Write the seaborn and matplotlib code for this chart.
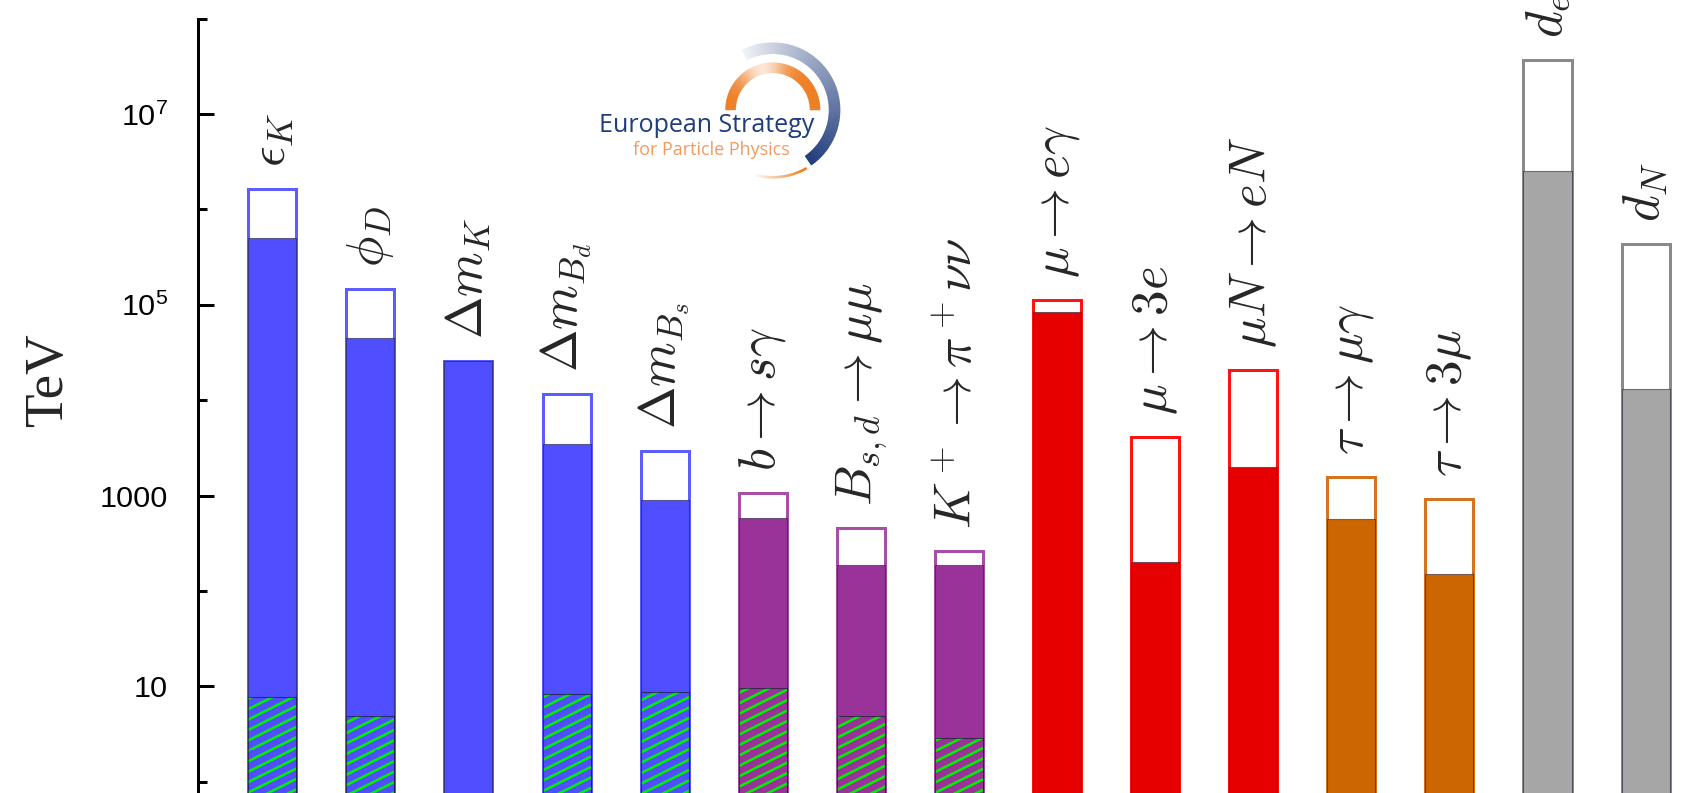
import numpy as np
import pandas as pd
import matplotlib
matplotlib.use("Agg")
import matplotlib.pyplot as plt
import matplotlib.hatch as mhatch
from matplotlib.path import Path
import seaborn as sns
from matplotlib.patches import Wedge
from matplotlib.ticker import FixedLocator, FixedFormatter, NullFormatter
from matplotlib.colors import to_rgb

# ---------------- data ----------------
processes = ["eK", "phiD", "dmK", "dmBd", "dmBs", "bsg", "Bmumu", "Kpinunu",
             "mueg", "mu3e", "muNeN", "taumug", "tau3mu", "de", "dN"]
labels = [r"$\epsilon_K$", r"$\phi_D$", r"$\Delta m_K$", r"$\Delta m_{B_d}$",
          r"$\Delta m_{B_s}$", r"$b\to s\gamma$", r"$B_{s,d}\to\mu\mu$",
          r"$K^+\to\pi^+\nu\nu$", r"$\mu\to e\gamma$", r"$\mu\to 3e$",
          r"$\mu N\to eN$", r"$\tau\to\mu\gamma$", r"$\tau\to 3\mu$",
          r"$d_e$", r"$d_N$"]
sectors = ["dF2", "dF2", "dF2", "dF2", "dF2", "dF1", "dF1", "dF1",
           "muLFV", "muLFV", "muLFV", "tauLFV", "tauLFV", "EDM", "EDM"]
future_reach = [1.65e6, 1.45e5, 2.6e4, 1.15e4, 2.9e3, 1.07e3, 4.6e2, 2.6e2,
                1.12e5, 4.1e3, 2.05e4, 1.55e3, 9.2e2, 3.65e7, 4.3e5]
current_reach = [5.0e5, 4.45e4, 2.6e4, 3.5e3, 9.0e2, 5.8e2, 1.85e2, 1.85e2,
                 8.5e4, 2.0e2, 2.0e3, 5.7e2, 1.5e2, 2.5e6, 1.3e4]
mfv_reach = [7.7, 4.9, np.nan, 8.4, 8.8, 9.5, 4.9, 2.9,
             np.nan, np.nan, np.nan, np.nan, np.nan, np.nan, np.nan]
major_ticks = [10, 1e3, 1e5, 1e7]
major_tick_labels = ["10", "1000", r"$\mathregular{10^5}$", r"$\mathregular{10^7}$"]
minor_ticks = [1, 1e2, 1e4, 1e6, 1e8]
y_label = "TeV"
logo_title = "European Strategy"
logo_subtitle = "for Particle Physics"

# ---------------- style ----------------
fill_pal = {"dF2": "#4F4FFF", "dF1": "#993399", "muLFV": "#E60000",
            "tauLFV": "#CC6600", "EDM": "#A6A6A6"}
edge_pal = {"dF2": "#5C5CFF", "dF1": "#A84DA8", "muLFV": "#FF1414",
            "tauLFV": "#D5731F", "EDM": "#8A8A8A"}
hue_order = ["dF2", "dF1", "muLFV", "tauLFV", "EDM"]

W, H, DPI = 1701, 793, 125
PX = 72.0 / DPI  # points per pixel


# shallower diagonal hatch (slope 1/2) used for the '/' pattern
class ShallowHatch(mhatch.HatchPatternBase):
    def __init__(self, hatch, density):
        self.n = int(hatch.count('/') * density)
        self.num_vertices = (self.n + self.n // 2) * 2 if self.n else 0

    def set_vertices_and_codes(self, vertices, codes):
        nl = self.num_vertices // 2
        b = np.arange(nl) / self.n - 0.5
        vertices[0::2, 0] = 0.0
        vertices[0::2, 1] = b
        vertices[1::2, 0] = 1.0
        vertices[1::2, 1] = b + 0.5
        codes[0::2] = Path.MOVETO
        codes[1::2] = Path.LINETO


mhatch._hatch_types = [ShallowHatch if t is mhatch.NorthEastHatch else t
                       for t in mhatch._hatch_types]

sns.set_style("white")
plt.rcParams["font.family"] = ["Liberation Sans", "DejaVu Sans"]
plt.rcParams["mathtext.fontset"] = "cm"
plt.rcParams["hatch.linewidth"] = 2.6 * PX

df = pd.DataFrame({"process": processes, "sector": sectors,
                   "future": future_reach, "current": current_reach,
                   "mfv": mfv_reach})

fig = plt.figure(figsize=(W / DPI, H / DPI), dpi=DPI, facecolor="white")
ax_left, ax_top = 198.0, 18.6
ax = fig.add_axes([ax_left / W, 0.0, 1 - ax_left / W, 1 - ax_top / H])

bar_w = 0.49
common = dict(x="process", hue="sector", order=processes, hue_order=hue_order,
              dodge=False, width=bar_w, legend=False, ax=ax,
              saturation=1, errorbar=None)


def new_patches(n0):
    return ax.patches[n0:]


# outline (future reach)
n0 = len(ax.patches)
sns.barplot(data=df, y="future", palette=edge_pal, **common)
for p in new_patches(n0):
    ec = p.get_facecolor()
    p.set_facecolor("white")
    p.set_edgecolor(ec)
    p.set_linewidth(3.0 * PX)

# filled (current reach)
n0 = len(ax.patches)
sns.barplot(data=df, y="current", palette=fill_pal, **common)
for p in new_patches(n0):
    p.set_edgecolor((0.1, 0.1, 0.2, 0.55))
    p.set_linewidth(1.1 * PX)

# hatched part
dfh = df.dropna(subset=["mfv"])
n0 = len(ax.patches)
sns.barplot(data=dfh, y="mfv", palette=fill_pal, **common)
for p in new_patches(n0):
    p.set_edgecolor("#00F000")
    p.set_hatch("//")
    p.set_linewidth(0)
n0 = len(ax.patches)
sns.barplot(data=dfh, y="mfv", palette=fill_pal, **common)
for p in new_patches(n0):
    p.set_facecolor("none")
    p.set_edgecolor((0.1, 0.1, 0.2, 0.7))
    p.set_linewidth(1.1 * PX)

# axes styling
ax.set_yscale("log", nonpositive="clip")
ax.set_ylim(10 ** -0.118, 1e8)
ax.set_xlim(-0.757, 14.565)
for s in ["top", "right", "bottom"]:
    ax.spines[s].set_visible(False)
ax.spines["left"].set_linewidth(3.0 * PX)
ax.spines["left"].set_color("black")
ax.set_xticks([])
ax.set_xlabel("")
ax.yaxis.set_major_locator(FixedLocator(major_ticks))
ax.yaxis.set_major_formatter(FixedFormatter(major_tick_labels))
ax.yaxis.set_minor_locator(FixedLocator(minor_ticks))
ax.yaxis.set_minor_formatter(NullFormatter())
ax.tick_params(axis="y", which="major", direction="in", length=16 * PX,
               width=3.0 * PX, pad=30 * PX, labelsize=30.5 * PX, colors="black", left=True)
ax.tick_params(axis="y", which="minor", direction="in", length=8.5 * PX,
               width=3.0 * PX, left=True, colors="black")

ax.set_ylabel(y_label, family=["Liberation Serif", "DejaVu Serif"],
              fontsize=55 * PX)
ax.yaxis.set_label_coords((49 - ax_left) / (W - ax_left), (H - 380) / (H - ax_top))
ax.yaxis.label.set_verticalalignment("center")

# bar labels
for i, (lab, top) in enumerate(zip(labels, future_reach)):
    ax.annotate(lab, xy=(i, top), xytext=(0, 22 * PX), textcoords="offset points",
                rotation=90, ha="center", va="bottom", fontsize=51 * PX,
                annotation_clip=False)

# ---------------- logo (pixel-coordinate overlay) ----------------
lax = fig.add_axes([0, 0, 1, 1], zorder=5)
lax.set_xlim(0, W)
lax.set_ylim(H, 0)
lax.axis("off")
lax.patch.set_alpha(0)

cx, cy = 772.8, 110.0
navy = np.array(to_rgb("#1D3A7A"))
orange = np.array(to_rgb("#EE7D22"))
white = np.array([1.0, 1.0, 1.0])


def arc(r, wdt, th_a, th_b, col_fn, n=90):
    ths = np.linspace(th_a, th_b, n + 1)
    for k in range(n):
        t0, t1 = ths[k], ths[k + 1]
        tm = 0.5 * (t0 + t1)
        c = col_fn(tm)
        lax.add_patch(Wedge((cx, cy), r, -t1 - 0.3, -t0 + 0.3, width=wdt,
                            facecolor=c, edgecolor="none", lw=0))


def navy_col(th):
    a = np.clip((117 - th) / 175.0, 0, 1) ** 0.9
    a = 0.06 + 0.94 * a
    return tuple(white * (1 - a) + navy * a)


def orange_col(th):
    a = 1 - 0.8 * np.exp(-((th - 105) / 32.0) ** 2)
    return tuple(white * (1 - a) + orange * a)


def thin_col(th):
    a = np.clip((th + 102) / 40.0, 0, 1)
    a = 0.1 + 0.9 * a
    return tuple(white * (1 - a) + orange * a)


arc(67.5, 11.5, -55, 117, navy_col)
arc(47.5, 10.5, 0, 180, orange_col)
arc(68.5, 2.5, -104, -60, thin_col, n=30)

lax.text(599, 132, logo_title, ha="left", va="baseline", color="#1F3C7B",
         family=["Open Sans", "DejaVu Sans"], fontsize=25 * PX)
lax.text(633, 155, logo_subtitle, ha="left", va="baseline", color="#F29A62",
         family=["Open Sans", "DejaVu Sans"], fontsize=18 * PX)

fig.savefig("out.png", dpi=DPI, facecolor="white")
